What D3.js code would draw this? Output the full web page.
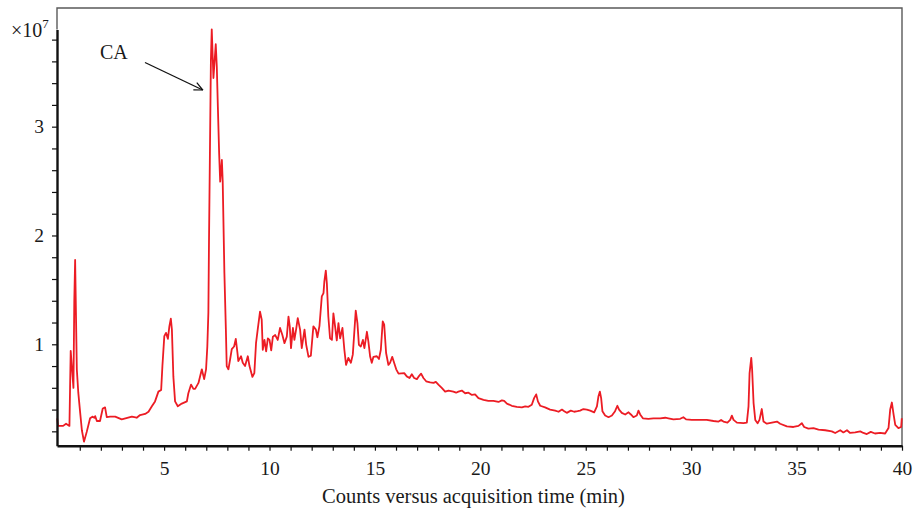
<!DOCTYPE html>
<html>
<head>
<meta charset="utf-8">
<script src="https://cdn.jsdelivr.net/npm/d3@7"></script>
<style>
  html, body { margin: 0; padding: 0; background: #fff; }
  svg { display: block; }
  text { font-family: "Liberation Serif", "Times New Roman", serif; fill: #1a1a1a; }
</style>
</head>
<body>
<svg id="chart" width="915" height="510"></svg>
<script>
// Retention time (min)
const times = [
  -0.07, -0.03, 0.21, 0.35, 0.51, 0.54, 0.57, 0.70, 0.74, 0.78, 0.86, 0.93, 1.02, 1.10, 1.20, 1.33, 1.49, 1.60, 1.69, 1.73,
  1.81, 1.96, 2.09, 2.20, 2.28, 2.44, 2.68, 2.99, 3.47, 3.70, 3.86, 4.10, 4.26, 4.42, 4.57, 4.73, 4.86, 4.92, 5.01, 5.09,
  5.18, 5.25, 5.32, 5.37, 5.44, 5.52, 5.65, 5.84, 6.08, 6.15, 6.28, 6.39, 6.47, 6.63, 6.79, 6.90, 6.99, 7.05, 7.10, 7.13,
  7.17, 7.22, 7.26, 7.34, 7.45, 7.50, 7.55, 7.61, 7.66, 7.74, 7.78, 7.86, 7.93, 7.97, 8.05, 8.13, 8.21, 8.32, 8.40, 8.48,
  8.52, 8.65, 8.73, 8.84, 8.97, 9.05, 9.19, 9.28, 9.36, 9.45, 9.55, 9.63, 9.68, 9.76, 9.84, 9.92, 10.00, 10.08, 10.16, 10.27,
  10.39, 10.50, 10.61, 10.71, 10.82, 10.90, 10.96, 11.02, 11.11, 11.18, 11.26, 11.34, 11.45, 11.53, 11.66, 11.74, 11.85, 11.96, 12.08, 12.20,
  12.27, 12.37, 12.48, 12.56, 12.60, 12.67, 12.72, 12.79, 12.87, 12.96, 13.03, 13.11, 13.19, 13.27, 13.35, 13.46, 13.55, 13.63, 13.74, 13.86,
  13.95, 14.03, 14.09, 14.17, 14.24, 14.33, 14.43, 14.50, 14.62, 14.69, 14.77, 14.85, 14.93, 15.09, 15.19, 15.28, 15.37, 15.44, 15.53, 15.64,
  15.72, 15.82, 15.91, 16.01, 16.12, 16.39, 16.51, 16.64, 16.75, 16.86, 16.99, 17.10, 17.19, 17.30, 17.43, 17.62, 17.78, 17.89, 18.01, 18.17,
  18.33, 18.49, 18.72, 18.85, 18.96, 19.12, 19.28, 19.44, 19.60, 19.75, 19.91, 20.15, 20.38, 20.62, 20.86, 21.02, 21.13, 21.26, 21.49, 21.73,
  21.97, 22.13, 22.28, 22.44, 22.55, 22.65, 22.73, 22.84, 23.07, 23.31, 23.55, 23.71, 23.87, 23.98, 24.10, 24.29, 24.45, 24.61, 24.73, 24.89,
  25.05, 25.21, 25.40, 25.53, 25.60, 25.67, 25.73, 25.79, 25.92, 26.08, 26.24, 26.39, 26.50, 26.58, 26.71, 26.87, 27.03, 27.14, 27.26, 27.42,
  27.50, 27.58, 27.71, 27.97, 28.21, 28.53, 28.77, 28.92, 29.16, 29.48, 29.63, 29.76, 30.03, 30.43, 30.74, 31.06, 31.30, 31.42, 31.53, 31.72,
  31.85, 31.93, 32.01, 32.17, 32.48, 32.64, 32.72, 32.77, 32.85, 32.89, 32.96, 33.04, 33.15, 33.24, 33.35, 33.43, 33.59, 33.83, 34.07, 34.22,
  34.54, 34.85, 35.09, 35.25, 35.36, 35.56, 35.80, 36.04, 36.36, 36.67, 36.83, 37.07, 37.22, 37.39, 37.54, 37.78, 38.02, 38.17, 38.33, 38.52,
  38.72, 38.96, 39.20, 39.36, 39.44, 39.52, 39.60, 39.68, 39.83, 39.96, 39.99
];
// Counts (x10^7)
const counts = [
  0.32, 0.25, 0.25, 0.27, 0.25, 0.60, 0.94, 0.60, 1.40, 1.775, 0.77, 0.555, 0.37, 0.21, 0.105, 0.195, 0.32, 0.335, 0.325, 0.34,
  0.295, 0.295, 0.41, 0.42, 0.33, 0.335, 0.335, 0.31, 0.335, 0.325, 0.35, 0.36, 0.38, 0.43, 0.475, 0.565, 0.58, 0.80, 1.075, 1.105,
  1.05, 1.165, 1.235, 1.135, 0.70, 0.475, 0.43, 0.455, 0.475, 0.55, 0.63, 0.59, 0.59, 0.645, 0.77, 0.68, 0.77, 0.98, 1.29, 1.958,
  2.694, 3.613, 3.895, 3.447, 3.758, 3.551, 3.183, 2.759, 2.495, 2.694, 2.495, 1.652, 1.135, 0.80, 0.77, 0.86, 0.955, 0.98, 1.05, 0.92,
  0.845, 0.89, 0.83, 0.80, 0.89, 0.80, 0.70, 0.735, 1.01, 1.15, 1.30, 1.225, 0.95, 1.04, 0.935, 1.055, 1.04, 0.945, 1.07, 1.085,
  1.04, 1.15, 1.085, 1.01, 1.07, 1.255, 1.165, 0.965, 1.15, 1.04, 1.135, 1.24, 1.135, 0.965, 1.135, 0.995, 0.885, 0.895, 1.165, 1.135,
  1.065, 1.17, 1.44, 1.47, 1.575, 1.677, 1.56, 1.255, 1.055, 1.04, 1.285, 1.165, 1.035, 1.195, 1.055, 1.15, 0.95, 0.81, 0.875, 0.83,
  0.905, 1.135, 1.31, 1.195, 0.995, 0.98, 1.04, 0.965, 1.115, 1.025, 0.89, 0.83, 0.885, 0.89, 0.865, 0.95, 1.21, 1.18, 0.92, 0.81,
  0.83, 0.885, 0.83, 0.77, 0.73, 0.735, 0.705, 0.69, 0.725, 0.69, 0.68, 0.71, 0.73, 0.69, 0.66, 0.65, 0.645, 0.655, 0.63, 0.60,
  0.565, 0.575, 0.565, 0.555, 0.565, 0.575, 0.55, 0.555, 0.535, 0.54, 0.505, 0.49, 0.48, 0.48, 0.47, 0.485, 0.48, 0.455, 0.435, 0.425,
  0.42, 0.43, 0.425, 0.445, 0.505, 0.54, 0.475, 0.435, 0.42, 0.40, 0.39, 0.38, 0.40, 0.385, 0.37, 0.39, 0.38, 0.385, 0.39, 0.405,
  0.40, 0.39, 0.375, 0.43, 0.52, 0.565, 0.505, 0.385, 0.345, 0.33, 0.345, 0.385, 0.435, 0.40, 0.37, 0.355, 0.375, 0.355, 0.33, 0.345,
  0.39, 0.355, 0.32, 0.315, 0.32, 0.32, 0.325, 0.32, 0.31, 0.315, 0.33, 0.31, 0.305, 0.305, 0.305, 0.295, 0.29, 0.305, 0.29, 0.28,
  0.305, 0.345, 0.305, 0.28, 0.275, 0.28, 0.43, 0.735, 0.875, 0.77, 0.46, 0.305, 0.275, 0.305, 0.405, 0.29, 0.27, 0.28, 0.29, 0.27,
  0.245, 0.24, 0.25, 0.275, 0.24, 0.225, 0.23, 0.215, 0.21, 0.20, 0.185, 0.21, 0.19, 0.21, 0.185, 0.19, 0.2, 0.185, 0.175, 0.195,
  0.18, 0.185, 0.18, 0.23, 0.40, 0.465, 0.355, 0.26, 0.23, 0.24, 0.32
];
const xTickValues = d3.range(1, 41);           // minor ticks every minute
const xLabelled = [5, 10, 15, 20, 25, 30, 35, 40];
const yTickValues = d3.range(1, 20).map(i => i / 5); // every 0.2
const yLabelled = [1, 2, 3];
const xTitle = "Counts versus acquisition time (min)";
const annotation = { label: "CA", time: 7.26 };

const svg = d3.select("#chart");
const x = d3.scaleLinear().domain([-0.08, 40]).range([57, 902]);
const y = d3.scaleLinear().domain([0.068, 3.893]).range([445.7, 29.5]);
const frameTop = 8;

// frame (thin grey box)
svg.append("path")
  .attr("d", `M${x.range()[0]},${y.range()[1]} V${frameTop} H${x.range()[1]} V${y.range()[0]}`)
  .attr("fill", "none").attr("stroke", "#5a5a5a").attr("stroke-width", 1.4);

// data line
const pts = times.map((t, i) => [t, counts[i]]);
const line = d3.line().x(d => x(d[0])).y(d => y(d[1]));
svg.append("path").datum(pts)
  .attr("d", line)
  .attr("fill", "none")
  .attr("stroke", "#ec1c24")
  .attr("stroke-width", 1.8)
  .attr("stroke-linejoin", "round");

// x axis
const xAxis = d3.axisBottom(x)
  .tickValues(xTickValues)
  .tickSize(5).tickSizeOuter(0).tickPadding(10)
  .tickFormat(d => xLabelled.includes(d) ? d : "");
const gx = svg.append("g").attr("transform", `translate(0,${y.range()[0]})`).call(xAxis);
gx.select(".domain").attr("stroke", "#111").attr("stroke-width", 2.4);
gx.selectAll(".tick line").attr("stroke", "#111").attr("stroke-width", 1.2);
gx.selectAll(".tick text").attr("font-size", 19.5).attr("font-family", "Liberation Serif").attr("fill", "#1a1a1a");

// y axis
const yAxis = d3.axisLeft(y)
  .tickValues(yTickValues)
  .tickSize(5).tickSizeOuter(0).tickPadding(8)
  .tickFormat(d => yLabelled.includes(Math.round(d * 1000) / 1000) ? Math.round(d) : "");
const gy = svg.append("g").attr("transform", `translate(${x.range()[0]},0)`).call(yAxis);
gy.select(".domain").attr("stroke", "#111").attr("stroke-width", 2.4);
gy.selectAll(".tick line").attr("stroke", "#111").attr("stroke-width", 1.2);
gy.selectAll(".tick text").attr("font-size", 19.5).attr("font-family", "Liberation Serif").attr("fill", "#1a1a1a");

// x10^7 label
const mult = svg.append("text").attr("x", 11).attr("y", 37).attr("font-size", 20);
mult.append("tspan").text("×10");
mult.append("tspan").attr("font-size", 13).attr("dy", -9).text("7");

// axis title
svg.append("text")
  .attr("x", (x.range()[0] + x.range()[1]) / 2 - 6)
  .attr("y", 503)
  .attr("text-anchor", "middle")
  .attr("font-size", 20.5)
  .text(xTitle);

// CA annotation with arrow
svg.append("defs").append("marker")
  .attr("id", "arr").attr("viewBox", "0 0 10 10").attr("refX", 9.5).attr("refY", 5)
  .attr("markerWidth", 10).attr("markerHeight", 10).attr("markerUnits", "userSpaceOnUse")
  .attr("orient", "auto")
  .append("path").attr("d", "M1,1 L9.5,5 L1,9").attr("fill", "none").attr("stroke", "#111").attr("stroke-width", 1.2);
svg.append("text").attr("x", 100).attr("y", 59).attr("font-size", 20).text(annotation.label);
svg.append("line")
  .attr("x1", 145).attr("y1", 62.5)
  .attr("x2", x(annotation.time) - 9).attr("y2", 90)
  .attr("stroke", "#111").attr("stroke-width", 1.3)
  .attr("marker-end", "url(#arr)");
</script>
</body>
</html>
